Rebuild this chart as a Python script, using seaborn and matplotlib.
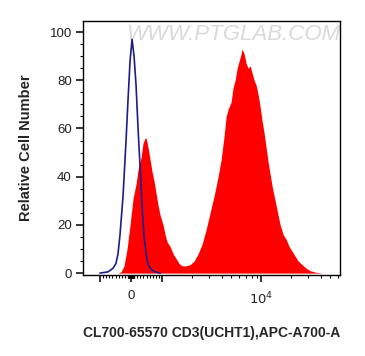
import numpy as np
import pandas as pd
import seaborn as sns
import matplotlib
matplotlib.use('Agg')
import matplotlib.pyplot as plt

# isotype control (blue line), fluorescence vs relative cell number
ctrl_x = [-1000, -743, -581, -485, -420, -355, -258, -161, -97, -32, 32, 97, 161, 226,
          291, 355, 420, 485, 549, 646, 775, 937]
ctrl_y = [0, 0.5, 2, 4, 8, 16, 32, 55, 72, 88, 97, 90, 78, 60,
          44, 28, 15, 8, 3.5, 1.5, 0.5, 0]

# CD3 stained sample (red filled histogram)
cd3_x = [-420, -323, -226, -129, -32, 65, 161, 226, 323, 388, 452, 485, 549, 614, 678,
         743, 808, 872, 937, 1023, 1072, 1123, 1205, 1292, 1385, 1485, 1592, 1748, 1918,
         2105, 2310, 2535, 2783, 3054, 3352, 3679, 3945, 4230, 4432, 4642, 4977, 5214,
         5463, 5723, 5995, 6281, 6429, 6735, 7056, 7392, 7743, 8111, 8498, 8902, 9326,
         9770, 10235, 10723, 11233, 11768, 12328, 12915, 13530, 14175, 14850, 15556,
         16681, 17886, 19180, 20567, 22054, 23648, 25950, 28480, 31255, 35130, 41320]
cd3_y = [0, 0.5, 3, 10, 20, 31, 37, 43, 48, 54, 56, 56, 52, 47, 42,
         38, 33, 28, 24, 20, 16, 13, 11, 8, 6, 4, 3, 3, 3.5,
         5, 8, 12, 18, 25, 32, 40, 47, 57, 65, 68, 71, 77,
         80, 85, 88, 91, 93, 91, 87, 85, 86, 83, 80, 78, 74,
         69, 63, 58, 52, 46, 41, 36, 32, 28, 24, 20,
         16, 14, 11, 9, 7, 5, 3.5, 2, 1, 0.4, 0]

ctrl = pd.DataFrame({'x': ctrl_x, 'y': ctrl_y})
cd3 = pd.DataFrame({'x': cd3_x, 'y': cd3_y})

sns.set_style('ticks')
plt.rcParams['font.family'] = ['Liberation Sans', 'DejaVu Sans']

fig = plt.figure(figsize=(3.65, 3.56), dpi=100)
ax = fig.add_axes([0.227, 0.2275, 0.705, 0.7135])

ax.fill_between(cd3['x'], cd3['y'], color='#ff0000', lw=0, zorder=2)
sns.lineplot(data=ctrl, x='x', y='y', ax=ax, color='#1c1c8a', lw=1.2, zorder=3,
             sort=False)

# biexponential-like axis: linear around zero, log above 10^3
ax.set_xscale('symlog', linthresh=1000, linscale=0.282)
ax.set_xlim(-1490, 62800)
ax.set_ylim(-0.8, 104.6)

ax.set_xticks([-1000, 0, 1000, 10000])
ax.set_xticklabels(['', '0', '', '$10^4$'])
minor = ([s * v for v in range(10, 100, 10) for s in (-1, 1)] +
         [s * v for v in range(100, 1000, 100) for s in (-1, 1)] +
         list(range(2000, 10000, 1000)) + list(range(20000, 70000, 10000)))
ax.set_xticks(minor, minor=True)

ax.set_yticks([0, 20, 40, 60, 80, 100])
ax.set_yticks(np.arange(0, 105, 5), minor=True)

ax.tick_params(which='major', length=5, width=1.1, labelsize=9.5, colors='black',
               labelcolor='#222222', pad=3)
ax.tick_params(axis='x', which='major', pad=6)
ax.tick_params(which='minor', length=2.5, width=0.8, colors='black')
for s in ax.spines.values():
    s.set_color('black')
    s.set_linewidth(1)

ax.set_xlabel('CL700-65570 CD3(UCHT1),APC-A700-A', fontsize=10, fontweight='bold',
              labelpad=14)
ax.set_ylabel('Relative Cell Number', fontsize=10.5, fontweight='bold', labelpad=12)

ax.text(0.585, 0.945, 'WWW.PTGLAB.COM', transform=ax.transAxes, ha='center',
        va='center', fontsize=16, style='italic', color='#dadada', zorder=1,
        clip_on=True)

fig.savefig('out.png', dpi=100)
